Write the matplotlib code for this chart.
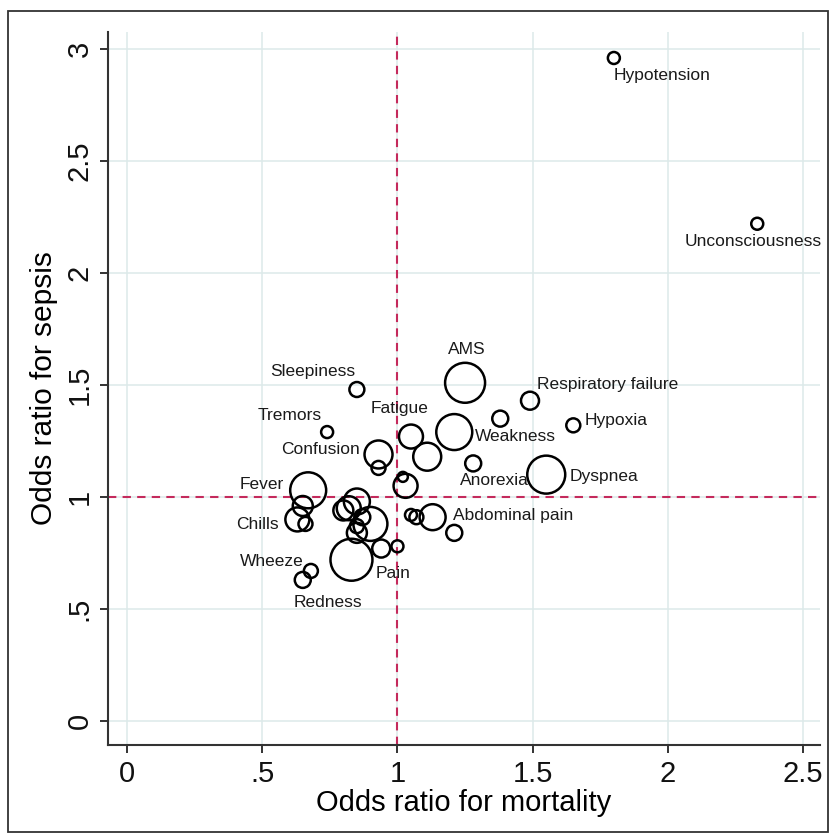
import matplotlib.pyplot as plt
from matplotlib.patches import Rectangle

# Odds ratios per symptom; marker area scales with weight
names = ["Hypotension", "Unconsciousness", "AMS", "Respiratory failure", "",
         "Hypoxia", "Weakness", "Fatigue", "", "Anorexia", "Dyspnea",
         "Sleepiness", "Tremors", "Confusion", "", "", "", "Fever", "",
         "Chills", "", "", "", "", "", "", "", "", "Pain", "", "",
         "Wheeze", "Redness", "", "", "Abdominal pain", ""]
or_mortality = [1.80, 2.33, 1.25, 1.49, 1.38, 1.65, 1.21, 1.05, 1.11, 1.28,
                1.55, 0.85, 0.74, 0.93, 0.93, 1.02, 1.03, 0.67, 0.65, 0.63,
                0.66, 0.85, 0.80, 0.82, 0.90, 0.87, 0.85, 0.85, 0.83, 0.94,
                1.00, 0.68, 0.65, 1.05, 1.07, 1.13, 1.21]
or_sepsis = [2.96, 2.22, 1.51, 1.43, 1.35, 1.32, 1.29, 1.27, 1.18, 1.15,
             1.10, 1.48, 1.29, 1.19, 1.13, 1.09, 1.05, 1.03, 0.96, 0.90,
             0.88, 0.98, 0.94, 0.95, 0.88, 0.91, 0.87, 0.84, 0.72, 0.77,
             0.78, 0.67, 0.63, 0.92, 0.91, 0.91, 0.84]
weight = [36, 36, 400, 81, 64, 49, 324, 144, 196, 64, 361, 56, 36, 196, 49,
          25, 144, 324, 100, 144, 49, 169, 100, 144, 289, 64, 49, 100, 441,
          81, 36, 49, 64, 36, 49, 169, 64]

x_ticks = [0, 0.5, 1, 1.5, 2, 2.5]
x_tick_labels = ["0", ".5", "1", "1.5", "2", "2.5"]
y_ticks = [0, 0.5, 1, 1.5, 2, 2.5, 3]
y_tick_labels = ["0", ".5", "1", "1.5", "2", "2.5", "3"]

# label placement: offset in pixels from marker centre, horizontal alignment
label_pos = {
    "Hypotension": (0, -18, "left"),
    "Unconsciousness": (-4, -18, "center"),
    "AMS": (2, 33, "center"),
    "Respiratory failure": (7, 16, "left"),
    "Hypoxia": (11, 5, "left"),
    "Weakness": (21, -4, "left"),
    "Fatigue": (-11, 28, "center"),
    "Anorexia": (21, -17, "center"),
    "Dyspnea": (23, -2, "left"),
    "Sleepiness": (-2, 18, "right"),
    "Tremors": (-5, 17, "right"),
    "Confusion": (-19, 5, "right"),
    "Fever": (-24, 6, "right"),
    "Chills": (-19, -5, "right"),
    "Wheeze": (-7, 9, "right"),
    "Redness": (25, -23, "center"),
    "Pain": (42, -14, "center"),
    "Abdominal pain": (20, 2, "left"),
}

plt.rcParams['font.family'] = ['Liberation Sans', 'DejaVu Sans']

fig = plt.figure(figsize=(8.36, 8.40), dpi=100)
ax = fig.add_axes([108 / 836, 95 / 840, 712 / 836, 713 / 840])

grid_color = '#dde9ea'
for v in x_ticks:
    ax.axvline(v, color=grid_color, lw=1.1, zorder=0)
for v in y_ticks:
    ax.axhline(v, color=grid_color, lw=1.1, zorder=0)

ax.axvline(1, color='#c42a5c', lw=1.5, dashes=(4, 3), zorder=1)
ax.axhline(1, color='#c42a5c', lw=1.5, dashes=(4, 3), zorder=1)

# px radius -> points^2 at 100 dpi
sizes = [w * 2.07 for w in weight]
ax.scatter(or_mortality, or_sepsis, s=sizes, facecolors='none',
           edgecolors='black', linewidths=1.8, zorder=2)

px = 72 / 100
for name, xv, yv in zip(names, or_mortality, or_sepsis):
    if not name:
        continue
    dx, dy, ha = label_pos[name]
    ax.annotate(name, (xv, yv), xytext=(dx * px, dy * px),
                textcoords='offset points', ha=ha, va='center',
                fontsize=12.5, color='#1a1a1a', zorder=3)

ax.set_xlim(-0.070, 2.562)
ax.set_ylim(-0.107, 3.076)
ax.set_xticks(x_ticks)
ax.set_xticklabels(x_tick_labels)
ax.set_yticks(y_ticks)
ax.set_yticklabels(y_tick_labels, rotation=90, va='center')

for side in ['top', 'right']:
    ax.spines[side].set_visible(False)
for side in ['left', 'bottom']:
    ax.spines[side].set_color('#333333')
    ax.spines[side].set_linewidth(1.5)

ax.tick_params(axis='both', direction='out', length=5.5, width=1.4,
               color='#333333', labelsize=21, labelcolor='#111111', pad=5)
ax.set_xlabel('Odds ratio for mortality', fontsize=21, labelpad=1)
ax.set_ylabel('Odds ratio for sepsis', fontsize=21.5, labelpad=5)

# outer frame round the whole graph
fig.add_artist(Rectangle((8 / 836, 8 / 840), 820 / 836, 821 / 840,
                         transform=fig.transFigure, fill=False,
                         edgecolor='#333333', lw=1.3))

fig.savefig('out.png', dpi=100, facecolor='white')
